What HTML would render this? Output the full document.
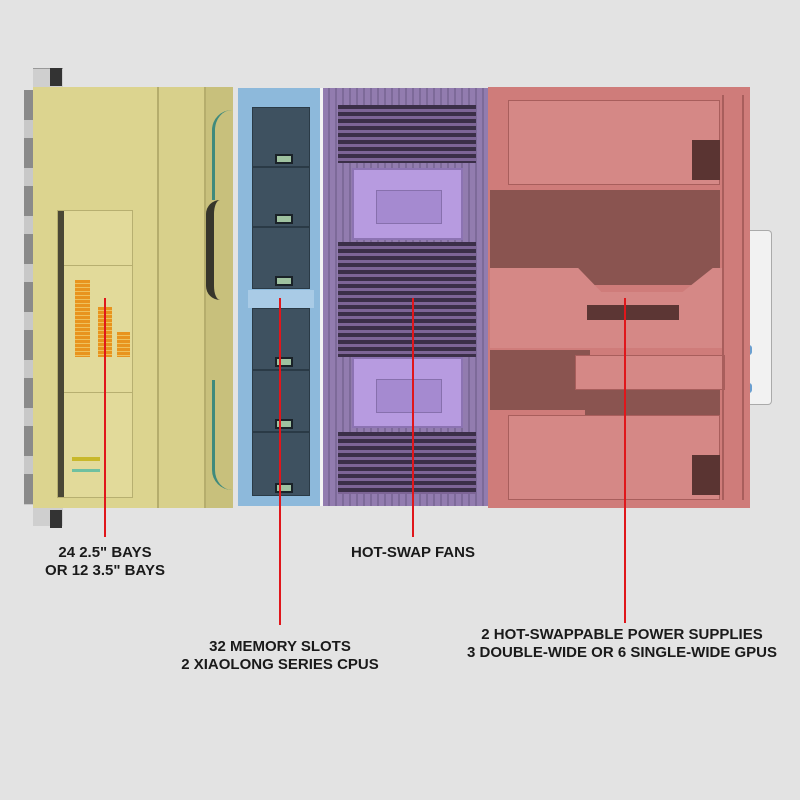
<!DOCTYPE html>
<html><head><meta charset="utf-8"><style>
*{margin:0;padding:0;box-sizing:border-box}
body{width:800px;height:800px;overflow:hidden;background:#e3e3e3;position:relative;font-family:"Liberation Sans Narrow","Liberation Sans",sans-serif}
.a{position:absolute}
.t{position:absolute;font-weight:bold;font-size:15px;color:#1a1a1a;text-align:center;line-height:18px;transform:translateX(-50%);white-space:nowrap;font-stretch:condensed}
.ln{position:absolute;width:2px;background:#e0161b}
.dot{position:absolute;width:5px;height:5px;background:#e0161b;border-radius:50%}
.fan{position:absolute;left:252px;width:58px;background:#3e5160;border:1px solid #2a3a46}
.fan i{position:absolute;left:22px;bottom:2px;width:18px;height:10px;background:#9fc2a0;border:2px solid #1a2228}
.mem{position:absolute;left:338px;width:138px;background:repeating-linear-gradient(#3b2f48 0 4px,#7d6596 4px 7px)}
.cpu{position:absolute;left:352px;width:111px;background:#b79be0;border:2px solid #8c73b2}
.cpu span{position:absolute;left:22px;top:20px;width:66px;height:34px;background:#a58ad0;border:1px solid #8770ad}
</style></head><body>
<!-- chassis silver edges -->
<div class="a" style="left:33px;top:68px;width:30px;height:20px;background:#cfcfcf;border-top:1px solid #999"></div>
<div class="a" style="left:33px;top:508px;width:30px;height:18px;background:#cfcfcf"></div>
<div class="a" style="left:24px;top:90px;width:10px;height:415px;background:repeating-linear-gradient(#8a8a8a 0 30px,#c8c8c8 30px 48px)"></div>
<div class="a" style="left:50px;top:68px;width:12px;height:18px;background:#333"></div>
<div class="a" style="left:50px;top:510px;width:12px;height:18px;background:#333"></div>
<!-- handle on right -->
<div class="a" style="left:750px;top:230px;width:22px;height:175px;background:#f2f2f2;border:1px solid #aaa;border-left:none;border-radius:0 4px 4px 0"></div>
<div class="a" style="left:744px;top:345px;width:8px;height:10px;background:#6a9fd0;border-radius:3px"></div>
<div class="a" style="left:744px;top:383px;width:8px;height:10px;background:#6a9fd0;border-radius:3px"></div>

<!-- yellow -->
<div class="a" style="left:33px;top:87px;width:200px;height:421px;background:#d6cd88"></div>
<div class="a" style="left:33px;top:87px;width:126px;height:421px;background:#dcd48f;border-right:2px solid #b5ad6c"></div>
<div class="a" style="left:159px;top:87px;width:47px;height:421px;background:#d8d08b;border-right:2px solid #b5ad6c"></div>
<div class="a" style="left:206px;top:87px;width:27px;height:421px;background:#c8c07c"></div>
<div class="a" style="left:206px;top:200px;width:26px;height:100px;border-left:8px solid #1e1e1e;border-radius:14px 0 0 14px;opacity:.85"></div>
<div class="a" style="left:212px;top:110px;width:20px;height:90px;border-left:3px solid #3f8a7c;border-radius:20px 0 0 0"></div>
<div class="a" style="left:212px;top:380px;width:20px;height:110px;border-left:3px solid #3f8a7c;border-radius:0 0 0 20px"></div>
<div class="a" style="left:57px;top:210px;width:76px;height:288px;background:#e2da9a;border:1px solid #b7af70"></div>
<div class="a" style="left:58px;top:211px;width:6px;height:286px;background:#4a4735"></div>
<div class="a" style="left:64px;top:265px;width:68px;height:1px;background:#b7af70"></div>
<div class="a" style="left:64px;top:392px;width:68px;height:1px;background:#b7af70"></div>
<div class="a" style="left:75px;top:280px;width:15px;height:77px;background:repeating-linear-gradient(#e8941e 0 3px,#efc15c 3px 4px)"></div>
<div class="a" style="left:98px;top:307px;width:14px;height:50px;background:repeating-linear-gradient(#e8941e 0 3px,#efc15c 3px 4px)"></div>
<div class="a" style="left:117px;top:332px;width:13px;height:25px;background:repeating-linear-gradient(#e8941e 0 3px,#efc15c 3px 4px)"></div>
<div class="a" style="left:72px;top:457px;width:28px;height:4px;background:#c8b82a"></div>
<div class="a" style="left:72px;top:469px;width:28px;height:3px;background:#6fc0a0"></div>

<!-- blue -->
<div class="a" style="left:238px;top:88px;width:82px;height:418px;background:#8db9db"></div>
<div class="a" style="left:320px;top:88px;width:3px;height:418px;background:#f4f4f4"></div>
<div class="fan" style="top:107px;height:60px"><i></i></div>
<div class="fan" style="top:167px;height:60px"><i></i></div>
<div class="fan" style="top:227px;height:62px"><i></i></div>
<div class="a" style="left:248px;top:290px;width:66px;height:18px;background:#a9cbe6"></div>
<div class="fan" style="top:308px;height:62px"><i></i></div>
<div class="fan" style="top:370px;height:62px"><i></i></div>
<div class="fan" style="top:432px;height:64px"><i></i></div>

<!-- purple -->
<div class="a" style="left:323px;top:88px;width:165px;height:418px;background:#8a74a8"></div>
<div class="a" style="left:323px;top:88px;width:165px;height:418px;background:repeating-linear-gradient(90deg,#9b86b8 0 5px,#6d5d86 5px 7px);opacity:.45"></div>
<div class="mem" style="top:105px;height:58px"></div>
<div class="cpu" style="top:168px;height:72px"><span></span></div>
<div class="mem" style="top:242px;height:115px"></div>
<div class="cpu" style="top:357px;height:71px"><span></span></div>
<div class="mem" style="top:432px;height:62px"></div>

<!-- red -->
<div class="a" style="left:488px;top:87px;width:262px;height:421px;background:#cf7c7a"></div>
<div class="a" style="left:490px;top:190px;width:230px;height:95px;background:#8a5450"></div>
<div class="a" style="left:490px;top:350px;width:100px;height:60px;background:#8a5450"></div>
<div class="a" style="left:585px;top:390px;width:135px;height:25px;background:#8a5450"></div>
<div class="a" style="left:508px;top:100px;width:212px;height:85px;background:#d58886;border:1px solid #a85e5c"></div>
<div class="a" style="left:490px;top:268px;width:185px;height:78px;background:#d58886;border:1px solid #a85e5c;clip-path:polygon(0 0,45% 0,55% 100%,100% 100%,100% 0,100% 100%,0 100%)"></div>
<div class="a" style="left:490px;top:268px;width:232px;height:80px;background:#d58886;clip-path:polygon(0 0,38% 0,48% 30%,83% 30%,96% 0,100% 0,100% 100%,0 100%)"></div>
<div class="a" style="left:587px;top:305px;width:92px;height:15px;background:#5c3634"></div>
<div class="a" style="left:575px;top:355px;width:150px;height:35px;background:#d58886;border:1px solid #a85e5c"></div>
<div class="a" style="left:508px;top:415px;width:212px;height:85px;background:#d58886;border:1px solid #a85e5c"></div>
<div class="a" style="left:692px;top:140px;width:28px;height:40px;background:#5a3432"></div>
<div class="a" style="left:692px;top:455px;width:28px;height:40px;background:#5a3432"></div>
<div class="a" style="left:722px;top:95px;width:22px;height:405px;border-left:2px solid #a85e5c;border-right:2px solid #a85e5c"></div>

<!-- leader lines -->
<div class="ln" style="left:104px;top:298px;height:239px"></div>
<div class="ln" style="left:279px;top:298px;height:327px"></div>
<div class="ln" style="left:412px;top:298px;height:239px"></div>
<div class="ln" style="left:624px;top:298px;height:325px"></div>

<div class="t" style="left:105px;top:544px">24 2.5" BAYS<br>OR 12 3.5" BAYS</div>
<div class="t" style="left:413px;top:544px">HOT-SWAP FANS</div>
<div class="t" style="left:280px;top:638px">32 MEMORY SLOTS<br>2 XIAOLONG SERIES CPUS</div>
<div class="t" style="left:622px;top:626px">2 HOT-SWAPPABLE POWER SUPPLIES<br>3 DOUBLE-WIDE OR 6 SINGLE-WIDE GPUS</div>
</body></html>
